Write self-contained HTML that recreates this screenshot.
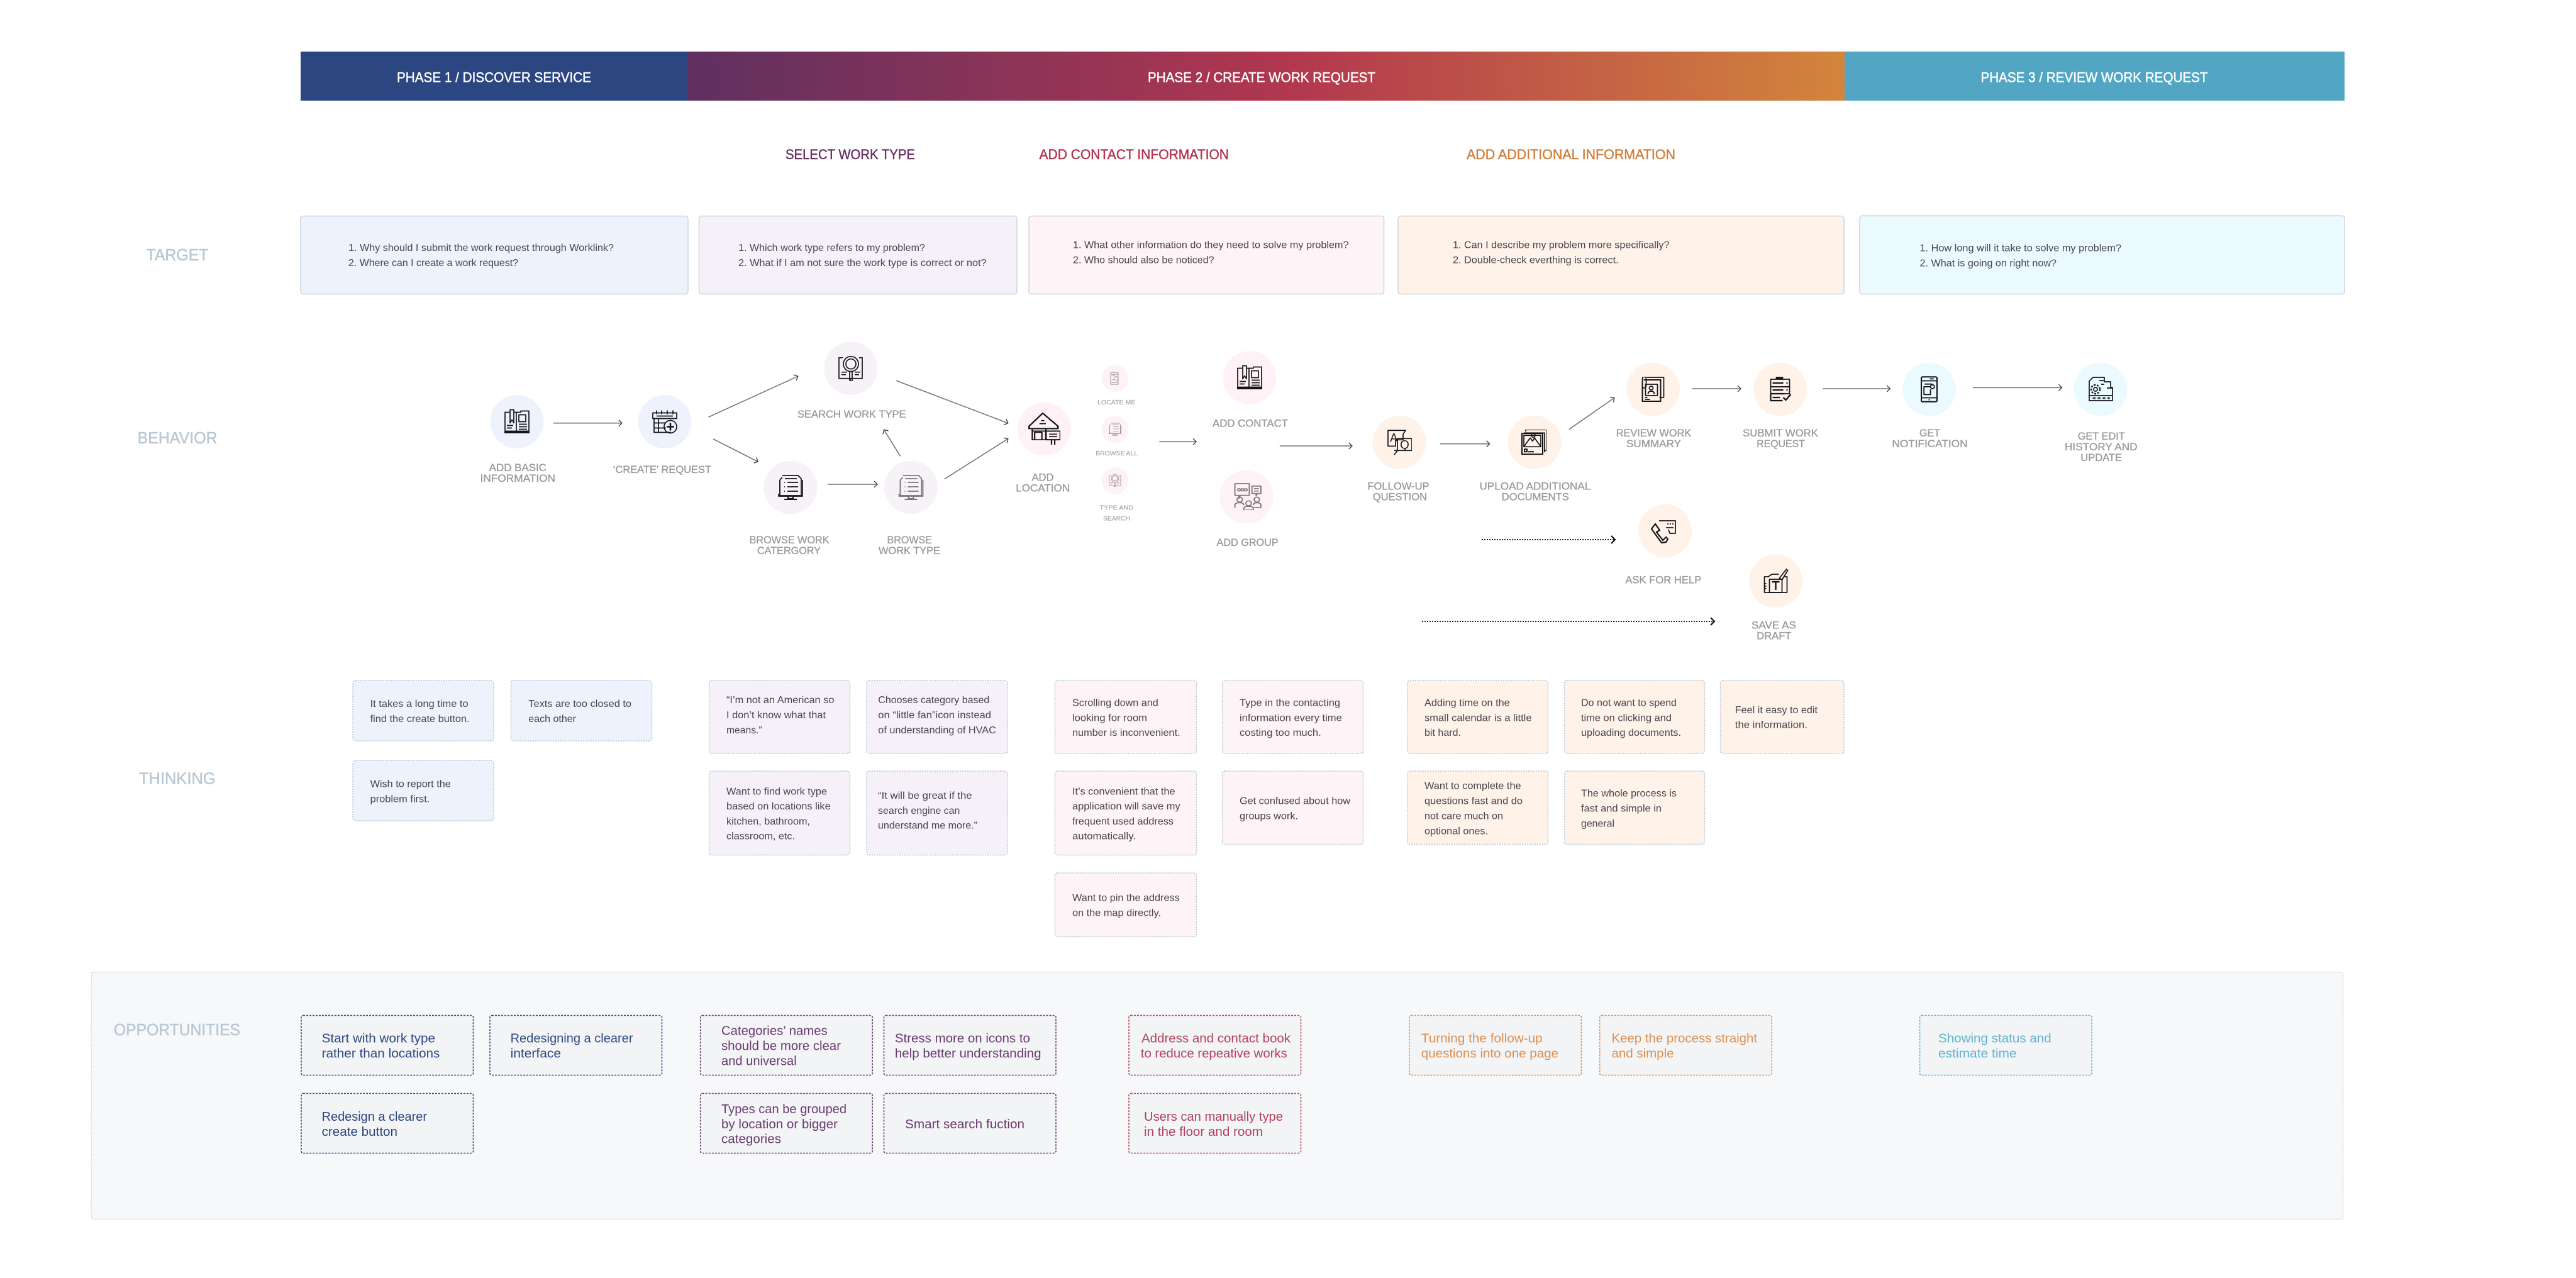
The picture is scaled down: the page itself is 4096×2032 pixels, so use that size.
<!DOCTYPE html>
<html lang="en">
<head>
<meta charset="utf-8">
<title>Service journey map</title>
<style>
html,body{margin:0;padding:0;background:#fff;width:4096px;height:2032px;overflow:hidden}
svg{display:block}
text{font-family:"Liberation Sans",Arial,sans-serif}
.ph{fill:#fff;stroke:#fff;stroke-width:.45;font-size:22px}
.sec{font-size:22px;stroke-width:.45;stroke:currentColor}
.side{fill:#b9c8d4;stroke:#b9c8d4;stroke-width:.5;font-size:25.5px}
.t{fill:#46464e;font-size:16px}
.lb{fill:#9a9a9e;stroke:#9a9a9e;stroke-width:.35;font-size:16.5px}
.lbs{fill:#a8a8ac;stroke:#a8a8ac;stroke-width:.2;font-size:10.5px}
.op{font-size:20px}
.ar{stroke:#77777c;stroke-width:1.6;fill:none;marker-end:url(#head)}
.ad{stroke:#222;stroke-width:2;stroke-dasharray:2 2;fill:none;marker-end:url(#headd)}
.ic{stroke:#141418;fill:none;stroke-width:1.7;stroke-linejoin:round}
.dash{stroke:#b4c2d0;stroke-width:1.5;stroke-dasharray:2 2}
</style>
</head>
<body>
<svg xmlns="http://www.w3.org/2000/svg" width="4096" height="2032" viewBox="0 0 4096 2032">
<defs>
<linearGradient id="g2" x1="0" x2="1" y1="0" y2="0"><stop offset="0" stop-color="#5f3060"/><stop offset=".52" stop-color="#b2374f"/><stop offset="1" stop-color="#d3853c"/></linearGradient>
<marker id="head" markerUnits="userSpaceOnUse" markerWidth="12" markerHeight="14" refX="7" refY="7" orient="auto"><path d="M2 2L7 7L2 12" fill="none" stroke="#444" stroke-width="1.4"/></marker>
<marker id="headd" markerUnits="userSpaceOnUse" markerWidth="12" markerHeight="18" refX="8" refY="9" orient="auto"><path d="M2 3L8 9L2 15" fill="none" stroke="#111" stroke-width="2.2"/></marker>
<symbol id="i-book" viewBox="0 0 40 40"><g class="ic"><path d="M8 5H1V35H19V5H15M19 5H26V3H39V35H19"/><path d="M9 1H15V22L12 17L9 22Z"/><rect x="23" y="9" width="11" height="11"/><path d="M23 24H36M23 28H36M23 32H36M4 26H14M4 30H12"/><path d="M0 37H40" stroke-width="3"/></g></symbol>
<symbol id="i-cal" viewBox="0 0 40 40"><g class="ic"><path d="M1 15V6H39V15H1Z"/><path d="M7 2V8M15 2V8M24 2V8M33 2V8M7 11H33"/><path d="M3 15V37H30M3 22H22M3 30H22M10 15V37" /><circle cx="29" cy="28" r="10"/><path d="M29 22V34M23 28H35" stroke-width="2.6"/></g></symbol>
<symbol id="i-search" viewBox="0 0 40 40"><g class="ic"><path d="M7 3H1V36H38V3H33"/><path d="M19 36V40"/><circle cx="20" cy="13" r="12"/><circle cx="20" cy="13" r="8"/><path d="M18 25H22V40H18Z"/><path d="M5 26H14M5 30H12M26 26H35M26 30H33"/></g></symbol>
<symbol id="i-mon" viewBox="0 0 40 40"><g class="ic"><path d="M7 1H32L37 6V33H3V8M3 8L7 4"/><path d="M3 8V33M1 30V34H39V8"/><path d="M11 6H30M10 12H11M15 12H32M10 19H11M15 19H32M10 26H11M15 26H32"/><path d="M16 34V38H24V34M10 39H30" stroke-width="2"/></g></symbol>
<symbol id="i-house" viewBox="0 0 40 52" preserveAspectRatio="none"><g class="ic"><path d="M1 22L18 1L37 22V26H1Z" stroke-width="2"/><path d="M16 13H20M14 18H22M5 30H33" stroke-width="1.8"/><path d="M5 26V44H22V26M8 32H17V44H8Z"/><rect x="22" y="30" width="18" height="14" stroke-width="2"/><path d="M26 35H36M26 39H36M29 44V52M33 44V52"/></g></symbol>
<symbol id="i-pin" viewBox="0 0 40 40"><g class="ic"><rect x="6" y="1" width="24" height="38" rx="2"/><path d="M6 7H30M6 33H30"/><circle cx="24" cy="20" r="6" /><path d="M11 12H20M11 24H16"/></g></symbol>
<symbol id="i-group" viewBox="0 0 40 44" preserveAspectRatio="none"><g class="ic"><path d="M1 1H22V20H9L7 25V20H1Z"/><path d="M26 5H39V17H34L32 21V17H26ZM29 9H36M29 13H36"/><circle cx="7" cy="11" r="2"/><circle cx="12" cy="11" r="2"/><circle cx="17" cy="11" r="2"/><circle cx="8" cy="27" r="4"/><path d="M1 40V36Q1 32 8 32Q14 32 14 36"/><circle cx="21" cy="33" r="4"/><path d="M14 44V41Q14 38 21 38Q28 38 28 41V44Z"/><circle cx="33" cy="27" r="4"/><path d="M28 36Q28 32 33 32Q39 32 39 36V40H29"/></g></symbol>
<symbol id="i-aq" viewBox="0 0 40 40"><g class="ic"><path d="M2 1H30L26 7V16H14V26H2Z"/><path d="M12 40L17 33V14H40V33H12"/><text x="5" y="19" font-size="19" fill="#222" stroke="none">A</text><text x="21" y="30" font-size="19" fill="#222" stroke="none">Q</text></g></symbol>
<symbol id="i-img" viewBox="0 0 40 40"><g class="ic"><path d="M7 3V0H40V33H36"/><path d="M4 5H37V36"/><rect x="1" y="6" width="33" height="33" stroke-width="2"/><path d="M4 9H31V27H4ZM4 27L14 13L18 18L21 13L31 27"/><circle cx="19" cy="9" r="3"/><path d="M5 31H9V35H5ZM11 35H20" stroke-width="2"/></g></symbol>
<symbol id="i-id" viewBox="0 0 40 40"><g class="ic"><path d="M10 1H37V33H30"/><path d="M5 5H32V39H3V8" stroke-width="2"/><path d="M3 4Q3 0 6 0Q9 0 9 4V14Q9 18 6 18Q3 18 3 14Z"/><rect x="8" y="12" width="19" height="18"/><circle cx="17" cy="18" r="3"/><path d="M12 28Q12 23 17 23Q22 23 22 28"/><path d="M7 33H11M7 36H15"/></g></symbol>
<symbol id="i-list" viewBox="0 0 40 40"><g class="ic"><path d="M14 4V1H24V4" fill="#141418"/><rect x="5" y="4" width="30" height="12"/><rect x="5" y="16" width="30" height="11"/><path d="M5 27H27M5 27V38H24M8 10H25M30 10H32M8 21H25M30 21H32M8 33H20" stroke-width="2.2"/><path d="M25 33L29 37L37 28" stroke-width="2.4"/></g></symbol>
<symbol id="i-phone" viewBox="0 0 26 40"><g class="ic"><rect x="1" y="1" width="24" height="38" rx="2" stroke-width="2"/><path d="M1 7H25M1 33H25M14 4H20M6 12H18"/><circle cx="18" cy="16" r="3"/><path d="M15 16H5V28H15V20M12 36H14"/></g></symbol>
<symbol id="i-gear" viewBox="0 0 40 40"><g class="ic"><path d="M2 38V7L8 1H26V8H36V17H39V38H2Z"/><path d="M18 6H25M21 12H26M30 18H39"/><path d="M2 30H38"/><path d="M6 34H36" stroke-width="3" stroke-dasharray="1 1"/><circle cx="12" cy="20" r="3"/><circle cx="12" cy="20" r="7" stroke-dasharray="3 2" stroke-width="2.4"/></g></symbol>
<symbol id="i-call" viewBox="0 0 40 40"><g class="ic"><path d="M13 4H39V24H30L28 18"/><path d="M7 9L14 19L9 22L19 35L24 30L27 33L24 38L17 39L1 17Z" stroke-width="2.2"/><path d="M26 9H28M30 9H32M34 9H36M24 15H36"/></g></symbol>
<symbol id="i-edit" viewBox="0 0 40 40"><g class="ic"><path d="M8 13H2V38H38V13H34"/><path d="M8 13L14 9H25M2 24H5M2 28H5M2 32H5"/><rect x="10" y="17" width="20" height="21"/><path d="M14 21H26M20 21V34" stroke-width="2.4"/><path d="M26 15L37 1L39 3L30 18Z" stroke-width="1.8"/></g></symbol>
</defs>

<g>
<rect x="478" y="82" width="616" height="78" fill="#2b4681"/>
<rect x="1094" y="82" width="1839" height="78" fill="url(#g2)"/>
<rect x="2933" y="82" width="795" height="78" fill="#52a6c3"/>
<text class="ph" x="631" y="130.5" textLength="309" lengthAdjust="spacingAndGlyphs">PHASE 1 / DISCOVER SERVICE</text>
<text class="ph" x="1825" y="130.5" textLength="362" lengthAdjust="spacingAndGlyphs">PHASE 2 / CREATE WORK REQUEST</text>
<text class="ph" x="3149.5" y="130.5" textLength="361" lengthAdjust="spacingAndGlyphs">PHASE 3 / REVIEW WORK REQUEST</text>
</g>

<g>
<text class="sec" x="1249" y="253" textLength="206" lengthAdjust="spacingAndGlyphs" fill="#6b2f63" color="#6b2f63">SELECT WORK TYPE</text>
<text class="sec" x="1652.5" y="253" textLength="301.5" lengthAdjust="spacingAndGlyphs" fill="#b3344f" color="#b3344f">ADD CONTACT INFORMATION</text>
<text class="sec" x="2332" y="253" textLength="332" lengthAdjust="spacingAndGlyphs" fill="#d07f3c" color="#d07f3c">ADD ADDITIONAL INFORMATION</text>
</g>

<g>
<text class="side" x="232.5" y="414" textLength="99" lengthAdjust="spacingAndGlyphs">TARGET</text>
<text class="side" x="218.6" y="705" textLength="127" lengthAdjust="spacingAndGlyphs">BEHAVIOR</text>
<text class="side" x="221" y="1246.5" textLength="121.7" lengthAdjust="spacingAndGlyphs">THINKING</text>
</g>

<g>
<g><rect x="478" y="343.5" width="616" height="124" rx="4" fill="#eef2fd" stroke="#cfd7e3" stroke-width="1.6"/>
<text class="t" x="554" y="399" textLength="422" lengthAdjust="spacingAndGlyphs">1. Why should I submit the work request through Worklink?</text>
<text class="t" x="554" y="423" textLength="270" lengthAdjust="spacingAndGlyphs">2. Where can I create a work request?</text></g>
<g><rect x="1111.5" y="343.5" width="505.5" height="124" rx="4" fill="#f6f1f8" stroke="#cfd7e3" stroke-width="1.6"/>
<text class="t" x="1174" y="399" textLength="297" lengthAdjust="spacingAndGlyphs">1. Which work type refers to my problem?</text>
<text class="t" x="1174" y="423" textLength="394.6" lengthAdjust="spacingAndGlyphs">2. What if I am not sure the work type is correct or not?</text></g>
<g><rect x="1636" y="343.5" width="564.5" height="124" rx="4" fill="#fef3f6" stroke="#cfd7e3" stroke-width="1.6"/>
<text class="t" x="1706" y="394.5" textLength="438.5" lengthAdjust="spacingAndGlyphs">1. What other information do they need to solve my problem?</text>
<text class="t" x="1706" y="418.5" textLength="224.6" lengthAdjust="spacingAndGlyphs">2. Who should also be noticed?</text></g>
<g><rect x="2223" y="343.5" width="709" height="124" rx="4" fill="#fef2e9" stroke="#cfd7e3" stroke-width="1.6"/>
<text class="t" x="2310" y="394.5" textLength="344.5" lengthAdjust="spacingAndGlyphs">1. Can I describe my problem more specifically?</text>
<text class="t" x="2310" y="418.5" textLength="263.6" lengthAdjust="spacingAndGlyphs">2. Double-check everthing is correct.</text></g>
<g><rect x="2957" y="343" width="771" height="124.5" rx="4" fill="#ebfafe" stroke="#cfd7e3" stroke-width="1.6"/>
<text class="t" x="3052.5" y="399.5" textLength="320.5" lengthAdjust="spacingAndGlyphs">1. How long will it take to solve my problem?</text>
<text class="t" x="3052.5" y="423.5" textLength="217.5" lengthAdjust="spacingAndGlyphs">2. What is going on right now?</text></g>
</g>

<g>
<g>
<line class="ar" x1="880" y1="672.7" x2="988.8" y2="672.7"/>
<line class="ar" x1="1126.3" y1="663.3" x2="1268.7" y2="598.3"/>
<line class="ar" x1="1134" y1="698" x2="1205" y2="734"/>
<line class="ar" x1="1315.8" y1="770" x2="1395" y2="770"/>
<line class="ar" x1="1431.5" y1="725.3" x2="1405.6" y2="683.3"/>
<line class="ar" x1="1501.7" y1="761.7" x2="1602.7" y2="697.7"/>
<line class="ar" x1="1425.2" y1="605.3" x2="1602.7" y2="672.7"/>
<line class="ar" x1="1843.3" y1="702.3" x2="1902" y2="702.3"/>
<line class="ar" x1="2034.8" y1="709" x2="2149.9" y2="709"/>
<line class="ar" x1="2290" y1="705.7" x2="2368.6" y2="705.7"/>
<line class="ar" x1="2494.8" y1="682.7" x2="2566.8" y2="632.7"/>
<line class="ar" x1="2690" y1="618" x2="2768" y2="618"/>
<line class="ar" x1="2898" y1="618" x2="3005.3" y2="618"/>
<line class="ar" x1="3137" y1="616.3" x2="3278.5" y2="616.3"/>
<line class="ad" x1="2356" y1="858" x2="2568" y2="858"/>
<line class="ad" x1="2261" y1="988" x2="2726" y2="988"/>
</g>

<g><ellipse cx="822" cy="670.5" rx="42.5" ry="42.5" fill="#eef2fd"/><use href="#i-book" x="802" y="650.5" width="40" height="40"/>
<text class="lb" x="777.7" y="749" textLength="91.3" lengthAdjust="spacingAndGlyphs">ADD BASIC</text>
<text class="lb" x="763.6" y="766" textLength="119.4" lengthAdjust="spacingAndGlyphs">INFORMATION</text></g>
<g><ellipse cx="1057" cy="670.5" rx="42.5" ry="42.5" fill="#eef2fd"/><use href="#i-cal" x="1037" y="650.5" width="40" height="40"/>
<text class="lb" x="974.8" y="752" textLength="156.2" lengthAdjust="spacingAndGlyphs">‘CREATE’ REQUEST</text></g>
<g><ellipse cx="1353" cy="585.7" rx="42.5" ry="42.5" fill="#f7f1f8"/><use href="#i-search" x="1333" y="565.7" width="40" height="40"/>
<text class="lb" x="1268" y="664" textLength="172.6" lengthAdjust="spacingAndGlyphs">SEARCH WORK TYPE</text></g>
<g><ellipse cx="1257" cy="775" rx="42.5" ry="42.5" fill="#f7f1f8"/><use href="#i-mon" x="1237" y="755" width="40" height="40"/>
<text class="lb" x="1191.6" y="864" textLength="127" lengthAdjust="spacingAndGlyphs">BROWSE WORK</text>
<text class="lb" x="1204" y="881" textLength="101" lengthAdjust="spacingAndGlyphs">CATERGORY</text></g>
<g><ellipse cx="1448.5" cy="775" rx="42.5" ry="42.5" fill="#f7f1f8"/><use href="#i-mon" x="1428.5" y="755" width="40" height="40" opacity=".55"/>
<text class="lb" x="1410.5" y="864" textLength="71.5" lengthAdjust="spacingAndGlyphs">BROWSE</text>
<text class="lb" x="1397" y="881" textLength="98" lengthAdjust="spacingAndGlyphs">WORK TYPE</text></g>
<g><ellipse cx="1660.5" cy="682" rx="42.5" ry="42.5" fill="#fef2f5"/><use href="#i-house" x="1635" y="656" width="51" height="51"/>
<text class="lb" x="1640.5" y="764.7" textLength="35" lengthAdjust="spacingAndGlyphs">ADD</text>
<text class="lb" x="1615.3" y="781.7" textLength="85.7" lengthAdjust="spacingAndGlyphs">LOCATION</text></g>
<g><ellipse cx="1773" cy="601.7" rx="21.5" ry="21.5" fill="#fef2f5"/><use href="#i-pin" x="1763" y="591.7" width="20" height="20" opacity=".45"/>
<text class="lbs" x="1745" y="643" textLength="60.4" lengthAdjust="spacingAndGlyphs">LOCATE ME</text></g>
<g><ellipse cx="1773" cy="682.5" rx="21.5" ry="21.5" fill="#fef2f5"/><use href="#i-mon" x="1763" y="672.5" width="20" height="20" opacity=".45"/>
<text class="lbs" x="1742.3" y="723.8" textLength="66.7" lengthAdjust="spacingAndGlyphs">BROWSE ALL</text></g>
<g><ellipse cx="1773" cy="764" rx="21.5" ry="21.5" fill="#fef2f5"/><use href="#i-search" x="1763" y="754" width="20" height="20" opacity=".45"/>
<text class="lbs" x="1748.6" y="810.5" textLength="53.4" lengthAdjust="spacingAndGlyphs">TYPE AND</text>
<text class="lbs" x="1754" y="827.5" textLength="43" lengthAdjust="spacingAndGlyphs">SEARCH</text></g>
<g><ellipse cx="1987" cy="600.5" rx="42.5" ry="42.5" fill="#fef2f5"/><use href="#i-book" x="1967" y="580.5" width="40" height="40"/>
<text class="lb" x="1928" y="678.7" textLength="120" lengthAdjust="spacingAndGlyphs">ADD CONTACT</text></g>
<g><ellipse cx="1982" cy="790" rx="42.5" ry="42.5" fill="#fef2f5"/><use href="#i-group" x="1962.5" y="768" width="43.5" height="43" opacity=".55"/>
<text class="lb" x="1934.5" y="868" textLength="98.2" lengthAdjust="spacingAndGlyphs">ADD GROUP</text></g>
<g><ellipse cx="2225" cy="703.3" rx="42.5" ry="42.5" fill="#fef2e9"/><use href="#i-aq" x="2205" y="683.3" width="40" height="40"/>
<text class="lb" x="2174.4" y="778.3" textLength="98.2" lengthAdjust="spacingAndGlyphs">FOLLOW-UP</text>
<text class="lb" x="2182.8" y="795.3" textLength="86.2" lengthAdjust="spacingAndGlyphs">QUESTION</text></g>
<g><ellipse cx="2440" cy="703.3" rx="42.5" ry="42.5" fill="#fef2e9"/><use href="#i-img" x="2419" y="683.3" width="40" height="40"/>
<text class="lb" x="2352.5" y="778.3" textLength="176.8" lengthAdjust="spacingAndGlyphs">UPLOAD ADDITIONAL</text>
<text class="lb" x="2387.7" y="795.3" textLength="107.1" lengthAdjust="spacingAndGlyphs">DOCUMENTS</text></g>
<g><ellipse cx="2628.5" cy="619" rx="42.5" ry="42.5" fill="#fef2e9"/><use href="#i-id" x="2608.5" y="599" width="40" height="40"/>
<text class="lb" x="2569.8" y="694" textLength="119.4" lengthAdjust="spacingAndGlyphs">REVIEW WORK</text>
<text class="lb" x="2586" y="711" textLength="87" lengthAdjust="spacingAndGlyphs">SUMMARY</text></g>
<g><ellipse cx="2830.5" cy="619" rx="42.5" ry="42.5" fill="#fef2e9"/><use href="#i-list" x="2810.5" y="599" width="40" height="40"/>
<text class="lb" x="2771" y="694" textLength="120" lengthAdjust="spacingAndGlyphs">SUBMIT WORK</text>
<text class="lb" x="2793.3" y="711" textLength="76.5" lengthAdjust="spacingAndGlyphs">REQUEST</text></g>
<g><ellipse cx="3067.5" cy="619" rx="42.5" ry="42.5" fill="#ebfafe"/><use href="#i-phone" x="3054" y="598" width="27" height="42"/>
<text class="lb" x="3052" y="694" textLength="33" lengthAdjust="spacingAndGlyphs">GET</text>
<text class="lb" x="3008.4" y="711" textLength="120.1" lengthAdjust="spacingAndGlyphs">NOTIFICATION</text></g>
<g><ellipse cx="3340" cy="619" rx="42.5" ry="42.5" fill="#ebfafe"/><use href="#i-gear" x="3320" y="599" width="40" height="40"/>
<text class="lb" x="3303.7" y="699" textLength="75.1" lengthAdjust="spacingAndGlyphs">GET EDIT</text>
<text class="lb" x="3283" y="716" textLength="115.6" lengthAdjust="spacingAndGlyphs">HISTORY AND</text>
<text class="lb" x="3308.3" y="733" textLength="65.7" lengthAdjust="spacingAndGlyphs">UPDATE</text></g>
<g><ellipse cx="2647.5" cy="844" rx="42.5" ry="42.5" fill="#fef2e9"/><use href="#i-call" x="2625" y="824" width="40" height="40"/>
<text class="lb" x="2584.4" y="927.7" textLength="120.9" lengthAdjust="spacingAndGlyphs">ASK FOR HELP</text></g>
<g><ellipse cx="2823.5" cy="924" rx="42.5" ry="42.5" fill="#fef2e9"/><use href="#i-edit" x="2803.5" y="904" width="40" height="40"/>
<text class="lb" x="2785" y="999.3" textLength="71" lengthAdjust="spacingAndGlyphs">SAVE AS</text>
<text class="lb" x="2793.3" y="1016.3" textLength="55.1" lengthAdjust="spacingAndGlyphs">DRAFT</text></g>
</g>

<g>
<g><rect class="dash" x="561" y="1082" width="224" height="96" rx="4" fill="#eef2fd"/>
<text class="t" x="588.6" y="1124" textLength="156" lengthAdjust="spacingAndGlyphs">It takes a long time to</text>
<text class="t" x="588.6" y="1148" textLength="158" lengthAdjust="spacingAndGlyphs">find the create button.</text></g>
<g><rect class="dash" x="812.5" y="1082" width="224" height="96" rx="4" fill="#eef2fd"/>
<text class="t" x="840.3" y="1124" textLength="163.7" lengthAdjust="spacingAndGlyphs">Texts are too closed to</text>
<text class="t" x="840.3" y="1148" textLength="75.7" lengthAdjust="spacingAndGlyphs">each other</text></g>
<g><rect class="dash" x="561" y="1209" width="224" height="96" rx="4" fill="#eef2fd"/>
<text class="t" x="588.6" y="1251.5" textLength="128.2" lengthAdjust="spacingAndGlyphs">Wish to report the</text>
<text class="t" x="588.6" y="1275.5" textLength="94.7" lengthAdjust="spacingAndGlyphs">problem first.</text></g>

<g><rect class="dash" x="1127.5" y="1082" width="224" height="116" rx="4" fill="#f6f1f8"/>
<text class="t" x="1155" y="1118" textLength="171.4" lengthAdjust="spacingAndGlyphs">“I’m not an American so</text>
<text class="t" x="1155" y="1142" textLength="158" lengthAdjust="spacingAndGlyphs">I don’t know what that</text>
<text class="t" x="1155" y="1166" textLength="56.6" lengthAdjust="spacingAndGlyphs">means.”</text></g>
<g><rect class="dash" x="1378" y="1082" width="224" height="116" rx="4" fill="#f6f1f8"/>
<text class="t" x="1396.3" y="1118" textLength="177" lengthAdjust="spacingAndGlyphs">Chooses category based</text>
<text class="t" x="1396.3" y="1142" textLength="179.7" lengthAdjust="spacingAndGlyphs">on “little fan”icon instead</text>
<text class="t" x="1396.3" y="1166" textLength="187.5" lengthAdjust="spacingAndGlyphs">of understanding of HVAC</text></g>
<g><rect class="dash" x="1127.5" y="1226" width="224" height="133.5" rx="4" fill="#f6f1f8"/>
<text class="t" x="1155" y="1263.5" textLength="160" lengthAdjust="spacingAndGlyphs">Want to find work type</text>
<text class="t" x="1155" y="1287" textLength="165.7" lengthAdjust="spacingAndGlyphs">based on locations like</text>
<text class="t" x="1155" y="1311" textLength="133" lengthAdjust="spacingAndGlyphs">kitchen, bathroom,</text>
<text class="t" x="1155" y="1334.5" textLength="109" lengthAdjust="spacingAndGlyphs">classroom, etc.</text></g>
<g><rect class="dash" x="1378" y="1226" width="224" height="133.5" rx="4" fill="#f6f1f8"/>
<text class="t" x="1396" y="1270" textLength="149.6" lengthAdjust="spacingAndGlyphs">“It will be great if the</text>
<text class="t" x="1396" y="1294" textLength="130.4" lengthAdjust="spacingAndGlyphs">search engine can</text>
<text class="t" x="1396" y="1317.5" textLength="158" lengthAdjust="spacingAndGlyphs">understand me more.”</text></g>

<g><rect class="dash" x="1677.5" y="1082" width="225" height="116" rx="4" fill="#fef3f6"/>
<text class="t" x="1705" y="1122.5" textLength="136.8" lengthAdjust="spacingAndGlyphs">Scrolling down and</text>
<text class="t" x="1705" y="1146.5" textLength="119" lengthAdjust="spacingAndGlyphs">looking for room</text>
<text class="t" x="1705" y="1170" textLength="171.6" lengthAdjust="spacingAndGlyphs">number is inconvenient.</text></g>
<g><rect class="dash" x="1943.5" y="1082" width="224" height="116" rx="4" fill="#fef3f6"/>
<text class="t" x="1971" y="1122.5" textLength="160" lengthAdjust="spacingAndGlyphs">Type in the contacting</text>
<text class="t" x="1971" y="1146.5" textLength="162.8" lengthAdjust="spacingAndGlyphs">information every time</text>
<text class="t" x="1971" y="1170" textLength="129.7" lengthAdjust="spacingAndGlyphs">costing too much.</text></g>
<g><rect class="dash" x="1677.5" y="1226" width="225" height="133.5" rx="4" fill="#fef3f6"/>
<text class="t" x="1705" y="1263.5" textLength="163.6" lengthAdjust="spacingAndGlyphs">It’s convenient that the</text>
<text class="t" x="1705" y="1287" textLength="171.6" lengthAdjust="spacingAndGlyphs">application will save my</text>
<text class="t" x="1705" y="1311" textLength="161" lengthAdjust="spacingAndGlyphs">frequent used address</text>
<text class="t" x="1705" y="1334.5" textLength="101" lengthAdjust="spacingAndGlyphs">automatically.</text></g>
<g><rect class="dash" x="1943.5" y="1226" width="224" height="116.5" rx="4" fill="#fef3f6"/>
<text class="t" x="1971" y="1278.5" textLength="176" lengthAdjust="spacingAndGlyphs">Get confused about how</text>
<text class="t" x="1971" y="1302.5" textLength="93" lengthAdjust="spacingAndGlyphs">groups work.</text></g>
<g><rect class="dash" x="1677.5" y="1388" width="225" height="101.5" rx="4" fill="#fef3f6"/>
<text class="t" x="1705" y="1432.5" textLength="170.7" lengthAdjust="spacingAndGlyphs">Want to pin the address</text>
<text class="t" x="1705" y="1456.5" textLength="141" lengthAdjust="spacingAndGlyphs">on the map directly.</text></g>

<g><rect class="dash" x="2238" y="1082" width="223.5" height="116" rx="4" fill="#fef2e9"/>
<text class="t" x="2265" y="1122.5" textLength="135.7" lengthAdjust="spacingAndGlyphs">Adding time on the</text>
<text class="t" x="2265" y="1146.5" textLength="170.5" lengthAdjust="spacingAndGlyphs">small calendar is a little</text>
<text class="t" x="2265" y="1170" textLength="58" lengthAdjust="spacingAndGlyphs">bit hard.</text></g>
<g><rect class="dash" x="2487.5" y="1082" width="223" height="116" rx="4" fill="#fef2e9"/>
<text class="t" x="2514" y="1122.5" textLength="152" lengthAdjust="spacingAndGlyphs">Do not want to spend</text>
<text class="t" x="2514" y="1146.5" textLength="144" lengthAdjust="spacingAndGlyphs">time on clicking and</text>
<text class="t" x="2514" y="1170" textLength="159" lengthAdjust="spacingAndGlyphs">uploading documents.</text></g>
<g><rect class="dash" x="2735.5" y="1082" width="196.5" height="116" rx="4" fill="#fef2e9"/>
<text class="t" x="2758.8" y="1134" textLength="131.2" lengthAdjust="spacingAndGlyphs">Feel it easy to edit</text>
<text class="t" x="2758.8" y="1157.5" textLength="115.2" lengthAdjust="spacingAndGlyphs">the information.</text></g>
<g><rect class="dash" x="2238" y="1226" width="223.5" height="116.5" rx="4" fill="#fef2e9"/>
<text class="t" x="2265" y="1254.5" textLength="153.6" lengthAdjust="spacingAndGlyphs">Want to complete the</text>
<text class="t" x="2265" y="1278.5" textLength="156" lengthAdjust="spacingAndGlyphs">questions fast and do</text>
<text class="t" x="2265" y="1302.5" textLength="125" lengthAdjust="spacingAndGlyphs">not care much on</text>
<text class="t" x="2265" y="1326.5" textLength="101" lengthAdjust="spacingAndGlyphs">optional ones.</text></g>
<g><rect class="dash" x="2487.5" y="1226" width="223" height="116.5" rx="4" fill="#fef2e9"/>
<text class="t" x="2514" y="1266.5" textLength="152" lengthAdjust="spacingAndGlyphs">The whole process is</text>
<text class="t" x="2514" y="1290.5" textLength="128" lengthAdjust="spacingAndGlyphs">fast and simple in</text>
<text class="t" x="2514" y="1314.5" textLength="53" lengthAdjust="spacingAndGlyphs">general</text></g>
</g>

<g>
<rect x="145.5" y="1545.5" width="3580" height="393" rx="3" fill="#f7f8fa" stroke="#c9d2da" stroke-width="1.5" stroke-dasharray="2 2"/>
<text class="side" x="181" y="1646" textLength="201" lengthAdjust="spacingAndGlyphs">OPPORTUNITIES</text>

<g fill="#2c4680"><rect x="479" y="1614.5" width="273.5" height="95" rx="3" fill="#f3f4f6" stroke="#2c4680" stroke-width="1.6" stroke-dasharray="3 2"/>
<text class="op" x="511.6" y="1657.5" textLength="180.4" lengthAdjust="spacingAndGlyphs">Start with work type</text>
<text class="op" x="511.6" y="1681.5" textLength="187.8" lengthAdjust="spacingAndGlyphs">rather than locations</text></g>
<g fill="#2c4680"><rect x="779" y="1614.5" width="273.5" height="95" rx="3" fill="#f3f4f6" stroke="#2c4680" stroke-width="1.6" stroke-dasharray="3 2"/>
<text class="op" x="811.6" y="1657.5" textLength="194.9" lengthAdjust="spacingAndGlyphs">Redesigning a clearer</text>
<text class="op" x="811.6" y="1681.5" textLength="80.4" lengthAdjust="spacingAndGlyphs">interface</text></g>
<g fill="#2c4680"><rect x="479" y="1738.5" width="273.5" height="95" rx="3" fill="#f3f4f6" stroke="#2c4680" stroke-width="1.6" stroke-dasharray="3 2"/>
<text class="op" x="511.6" y="1782" textLength="167.4" lengthAdjust="spacingAndGlyphs">Redesign a clearer</text>
<text class="op" x="511.6" y="1806" textLength="120.4" lengthAdjust="spacingAndGlyphs">create button</text></g>

<g fill="#6b3a6f"><rect x="1113.7" y="1614.5" width="273.5" height="95" rx="3" fill="#f3f4f6" stroke="#6b3a6f" stroke-width="1.6" stroke-dasharray="3 2"/>
<text class="op" x="1147" y="1645.5" textLength="168.7" lengthAdjust="spacingAndGlyphs">Categories’ names</text>
<text class="op" x="1147" y="1669.5" textLength="190" lengthAdjust="spacingAndGlyphs">should be more clear</text>
<text class="op" x="1147" y="1693.5" textLength="119.7" lengthAdjust="spacingAndGlyphs">and universal</text></g>
<g fill="#6b3a6f"><rect x="1405.5" y="1614.5" width="273.5" height="95" rx="3" fill="#f3f4f6" stroke="#6b3a6f" stroke-width="1.6" stroke-dasharray="3 2"/>
<text class="op" x="1422.9" y="1657.5" textLength="215" lengthAdjust="spacingAndGlyphs">Stress more on icons to</text>
<text class="op" x="1422.9" y="1681.5" textLength="232.6" lengthAdjust="spacingAndGlyphs">help better understanding</text></g>
<g fill="#6b3a6f"><rect x="1113.7" y="1738.5" width="273.5" height="95" rx="3" fill="#f3f4f6" stroke="#6b3a6f" stroke-width="1.6" stroke-dasharray="3 2"/>
<text class="op" x="1147" y="1770" textLength="199" lengthAdjust="spacingAndGlyphs">Types can be grouped</text>
<text class="op" x="1147" y="1794" textLength="185" lengthAdjust="spacingAndGlyphs">by location or bigger</text>
<text class="op" x="1147" y="1817.5" textLength="95" lengthAdjust="spacingAndGlyphs">categories</text></g>
<g fill="#6b3a6f"><rect x="1405.5" y="1738.5" width="273.5" height="95" rx="3" fill="#f3f4f6" stroke="#6b3a6f" stroke-width="1.6" stroke-dasharray="3 2"/>
<text class="op" x="1439" y="1794" textLength="190" lengthAdjust="spacingAndGlyphs">Smart search fuction</text></g>

<g fill="#b3405c"><rect x="1795" y="1614.5" width="273.5" height="95" rx="3" fill="#f3f4f6" stroke="#b3405c" stroke-width="1.6" stroke-dasharray="3 2"/>
<text class="op" x="1815" y="1657.5" textLength="237" lengthAdjust="spacingAndGlyphs">Address and contact book</text>
<text class="op" x="1813.8" y="1681.5" textLength="233" lengthAdjust="spacingAndGlyphs">to reduce repeative works</text></g>
<g fill="#b3405c"><rect x="1795" y="1738.5" width="273.5" height="95" rx="3" fill="#f3f4f6" stroke="#b3405c" stroke-width="1.6" stroke-dasharray="3 2"/>
<text class="op" x="1819" y="1782" textLength="221" lengthAdjust="spacingAndGlyphs">Users can manually type</text>
<text class="op" x="1819" y="1806" textLength="189" lengthAdjust="spacingAndGlyphs">in the floor and room</text></g>

<g fill="#dd8f50"><rect x="2241" y="1614.5" width="273.5" height="95" rx="3" fill="#f3f4f6" stroke="#dd8f50" stroke-width="1.6" stroke-dasharray="3 2"/>
<text class="op" x="2259.8" y="1657.5" textLength="192.9" lengthAdjust="spacingAndGlyphs">Turning the follow-up</text>
<text class="op" x="2259.8" y="1681.5" textLength="218.2" lengthAdjust="spacingAndGlyphs">questions into one page</text></g>
<g fill="#dd8f50"><rect x="2543.7" y="1614.5" width="273.5" height="95" rx="3" fill="#f3f4f6" stroke="#dd8f50" stroke-width="1.6" stroke-dasharray="3 2"/>
<text class="op" x="2562.5" y="1657.5" textLength="231.5" lengthAdjust="spacingAndGlyphs">Keep the process straight</text>
<text class="op" x="2562.5" y="1681.5" textLength="99" lengthAdjust="spacingAndGlyphs">and simple</text></g>

<g fill="#5fb3cf"><rect x="3052.6" y="1614.5" width="273.5" height="95" rx="3" fill="#f3f4f6" stroke="#5fb3cf" stroke-width="1.6" stroke-dasharray="3 2"/>
<text class="op" x="3082" y="1657.5" textLength="179.6" lengthAdjust="spacingAndGlyphs">Showing status and</text>
<text class="op" x="3082" y="1681.5" textLength="124.6" lengthAdjust="spacingAndGlyphs">estimate time</text></g>
</g>
</svg>
</body>
</html>
